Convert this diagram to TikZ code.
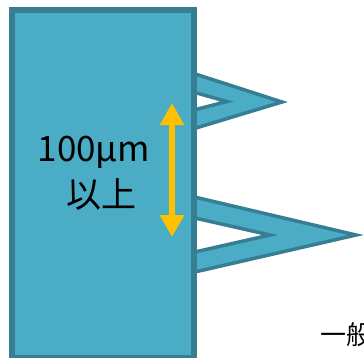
\documentclass[tikz,border=0pt]{standalone}
\usepackage{fontspec}
\newfontfamily\jpfont{Noto Sans CJK JP}
\usetikzlibrary{arrows.meta, positioning}
\definecolor{platefill}{HTML}{4BACC6}
\definecolor{plateedge}{HTML}{367E92}
\definecolor{gaugeorange}{HTML}{FFC000}

\begin{document}
\begin{tikzpicture}[
            x=1pt, y=-1pt,                      % 1 unidad = 1 px de la referencia
            plate/.style={
                rectangle,
                draw=plateedge,
                fill=platefill,
                line width=5.5pt,
                minimum width=182pt,
                minimum height=348pt,
                inner sep=0pt,
                anchor=north west
            },
            hook/.style={
                draw=plateedge,
                fill=platefill,
                line width=3.5pt,
                line join=miter
            },
            gaugeline/.style={
                draw=gaugeorange,
                line width=6pt,
                {Triangle[width=23pt,length=22pt]}-{Triangle[width=23pt,length=22pt]}
            },
            label/.style={
                font=\jpfont\fontsize{35}{42}\selectfont,
                inner sep=0pt,
                anchor=base
            },
            note/.style={
                font=\jpfont\fontsize{26}{30}\selectfont,
                inner sep=0pt,
                anchor=base west
            }
        ]
            \useasboundingbox (0,0) rectangle (364,357);
            \clip (0,0) rectangle (364,357);

            % --- GANCHOS ---
            \path [hook] (186,71) -- (282,102) -- (186,131) -- (186,112)
                -- (227,101.5) -- (186,90) -- cycle;
            \path [hook] (186,195) -- (356,235) -- (186,274) -- (186,254)
                -- (270,235) -- (186,216) -- cycle;

            % --- PLACA ---
            \node [plate] (plate) at (9,7) {};

            % --- COTA ---
            \coordinate (gaugetop) at (172,103);
            \coordinate (gaugebottom) at (172,237);
            \path [gaugeline] (gaugetop) -- (gaugebottom);

            % --- TEXTOS ---
            \node [label] (size) at (94,161) {100μm};
            \node [label] (above) at (101,207) {以上};
            \node [note] (general) at (320,344) {一般};
        \end{tikzpicture}
\end{document}
